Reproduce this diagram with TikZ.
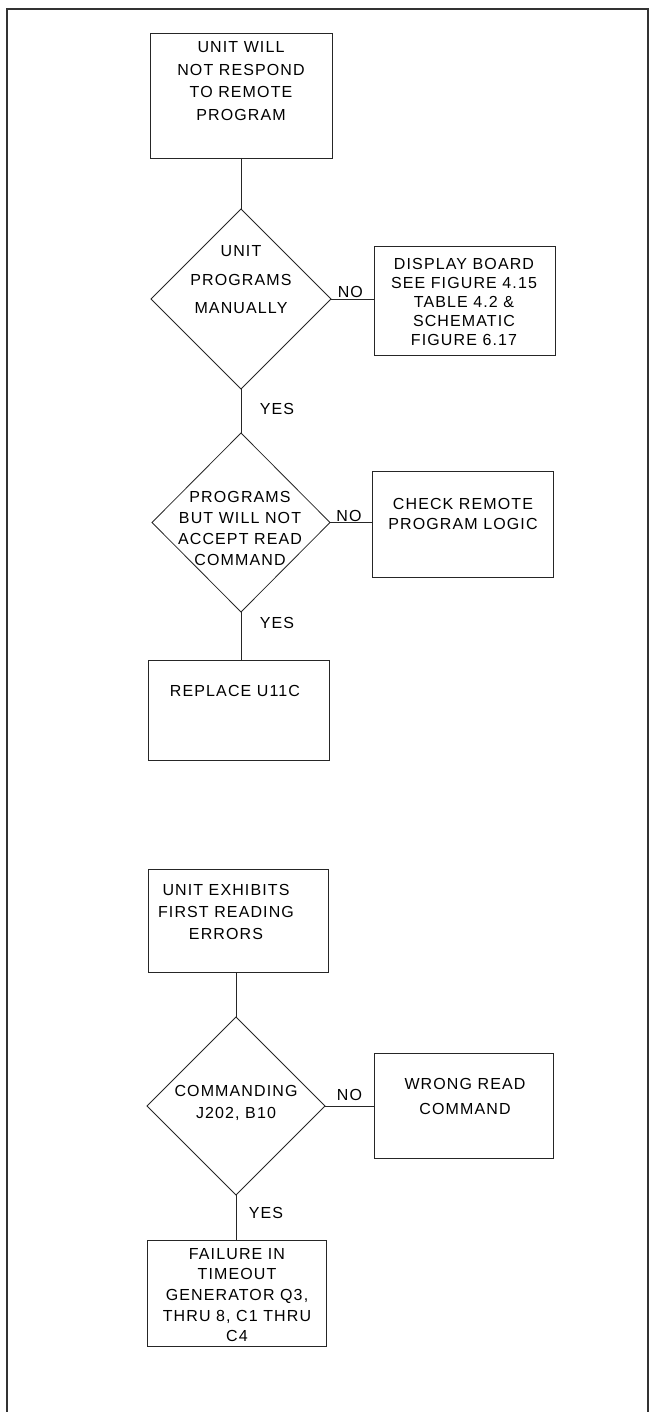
\documentclass[tikz,border=0pt]{standalone}
\usepackage{fontspec}
\usetikzlibrary{shapes.geometric}
\newfontfamily\labfont{Liberation Sans}[LetterSpace=7]
\tikzset{
  every node/.style={inner sep=0pt, outer sep=0pt},
  ln/.style={line width=0.8pt, draw=black!85},
  boxnode/.style={ln, rectangle, minimum width=#1},
  dia/.style={ln, diamond, minimum width=180pt, minimum height=180pt},
  txt/.style={align=center, text=black, font={\labfont\fontsize{16pt}{#1}\selectfont}},
  lbl/.style={text=black, font={\labfont\fontsize{16pt}{18pt}\selectfont}},
}
\begin{document}
\begin{tikzpicture}[x=1pt, y=-1pt]
\useasboundingbox (0,0) rectangle (650,1412);
% outer frame
\draw[line width=1.2pt, black!80] (7,1412) -- (7,9) -- (648,9) -- (648,1412);

% ---- first chart ----
\node[boxnode=182pt, minimum height=125pt] (b1) at (241,95.5) {};
\node[txt=22.5pt] (b1t) at (241,81) {UNIT WILL\\NOT RESPOND\\TO REMOTE\\PROGRAM};

\node[dia] (d1) at (241,299) {};
\node[txt=28.5pt] (d1t) at (241,280) {UNIT\\PROGRAMS\\MANUALLY};

\node[boxnode=181pt, minimum height=109pt] (b2) at (464.5,300.5) {};
\node[txt=18.8pt] (b2t) at (464,302) {DISPLAY BOARD\\SEE FIGURE 4.15\\TABLE 4.2 \&\\SCHEMATIC\\FIGURE 6.17};

\node[dia, minimum width=178pt, minimum height=179pt] (d2) at (241,522.5) {};
\node[txt=21pt] (d2t) at (240,528) {PROGRAMS\\BUT WILL NOT\\ACCEPT READ\\COMMAND};

\node[boxnode=181pt, minimum height=106pt] (b3) at (462.5,524) {};
\node[txt=20pt] (b3t) at (463,514) {CHECK REMOTE\\PROGRAM LOGIC};

\node[boxnode=181pt, minimum height=100pt] (b4) at (238.5,710) {};
\node[txt=20pt] (b4t) at (235,691) {REPLACE U11C};

\draw[ln] (b1.south) -- (d1.north);
\draw[ln] (d1.east) -- (d1.east -| b2.west) node[lbl, pos=0.45, above=1pt] (no1) {NO};
\draw[ln] (d1.south) -- (d2.north);
\node[lbl] (yes1) at (277,409) {YES};
\draw[ln] (d2.east) -- (d2.east -| b3.west) node[lbl, pos=0.45, above=1pt] (no2) {NO};
\draw[ln] (d2.south) -- (d2.south |- b4.north);
\node[lbl] (yes2) at (277,623) {YES};

% ---- second chart ----
\node[boxnode=180pt, minimum height=103pt] (b5) at (238,920.5) {};
\node[txt=22pt] (b5t) at (226,912) {UNIT EXHIBITS\\FIRST READING\\ERRORS};

\node[dia, minimum width=178pt, minimum height=178pt] (d3) at (236,1106) {};
\node[txt=22pt] (d3t) at (236,1103) {COMMANDING\\J202, B10};

\node[boxnode=179pt, minimum height=105pt] (b6) at (463.5,1105.5) {};
\node[txt=25pt] (b6t) at (465,1096) {WRONG READ\\COMMAND};

\node[boxnode=179pt, minimum height=106pt] (b7) at (236.5,1293) {};
\node[txt=20.7pt] (b7t) at (237,1295) {FAILURE IN\\TIMEOUT\\GENERATOR Q3,\\THRU 8, C1 THRU\\C4};

\draw[ln] (d3.north |- b5.south) -- (d3.north);
\draw[ln] (d3.east) -- (d3.east -| b6.west) node[lbl, pos=0.5, above=5pt] (no3) {NO};
\draw[ln] (d3.south) -- (d3.south |- b7.north);
\node[lbl] (yes3) at (266,1213) {YES};
\end{tikzpicture}
\end{document}
